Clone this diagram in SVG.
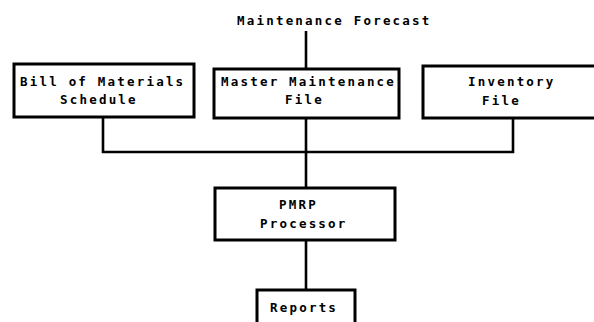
<svg xmlns="http://www.w3.org/2000/svg" width="594" height="322" viewBox="0 0 594 322">
  <style>
    .box { fill: #ffffff; stroke: #000000; stroke-width: 3; }
    .wire { fill: none; stroke: #000000; stroke-width: 2.6; stroke-linejoin: miter; }
    text { font-family: "DejaVu Sans Mono", "Liberation Mono", monospace; font-size: 12.5px; font-weight: bold; letter-spacing: 2.2px; fill: #000000; }
  </style>
  <rect width="594" height="322" fill="#ffffff"/>

  <!-- connectors -->
  <g id="connectors">
    <path class="wire" d="M306,31 V69"/>
    <path class="wire" d="M103,117 V152 H513 V118"/>
    <path class="wire" d="M306,118 V188"/>
    <path class="wire" d="M306,240 V290"/>
  </g>

  <text id="forecast" x="237" y="25">Maintenance Forecast</text>

  <g id="bom">
    <rect class="box" x="14" y="64" width="180" height="53"/>
    <text x="20" y="86">Bill of Materials</text>
    <text x="60" y="104">Schedule</text>
  </g>

  <g id="master">
    <rect class="box" x="214" y="69" width="185" height="49"/>
    <text x="221" y="86">Master Maintenance</text>
    <text x="285" y="104">File</text>
  </g>

  <g id="inventory">
    <rect class="box" x="423" y="66" width="180" height="52"/>
    <text x="468" y="86">Inventory</text>
    <text x="482" y="105">File</text>
  </g>

  <g id="pmrp">
    <rect class="box" x="215" y="188" width="180" height="52"/>
    <text x="279" y="209">PMRP</text>
    <text x="260" y="228">Processor</text>
  </g>

  <g id="reports">
    <rect class="box" x="257" y="290" width="98" height="40"/>
    <text x="270" y="312">Reports</text>
  </g>
</svg>
